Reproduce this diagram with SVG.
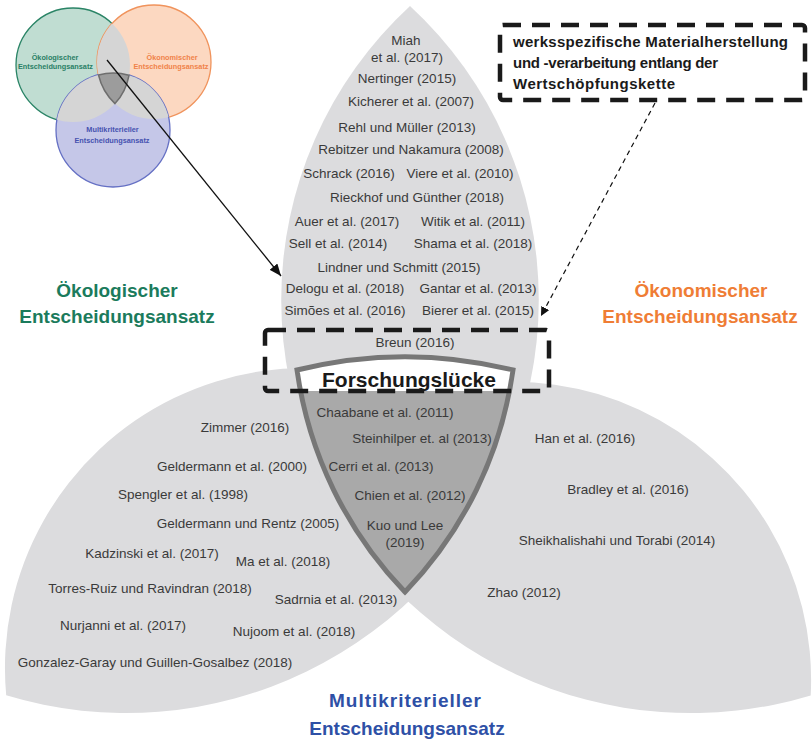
<svg xmlns="http://www.w3.org/2000/svg" width="812" height="742" viewBox="0 0 812 742">
<style>
  text { font-family: "Liberation Sans", Arial, sans-serif; }
  .r { font-size: 13.5px; fill: #3a3a3a; text-anchor: middle; }
  .big { font-size: 19px; font-weight: bold; text-anchor: middle; }
  .sm { font-size: 7.3px; font-weight: bold; text-anchor: middle; }
  .box { font-size: 15px; font-weight: bold; fill: #1a1a1a; }
  .petal { fill: #dcdcde; }
  .dash { fill: none; stroke: #1a1a1a; stroke-width: 4.5; stroke-dasharray: 18 11; }
</style>
<defs>
  <marker id="arrSolid" markerUnits="userSpaceOnUse" markerWidth="13" markerHeight="10" refX="12" refY="5" orient="auto">
    <path d="M0,0 L12,5 L0,10 Z" fill="#111"/>
  </marker>
  <marker id="arrDash" markerUnits="userSpaceOnUse" markerWidth="10" markerHeight="9" refX="9" refY="4.5" orient="auto">
    <path d="M0,0 L9,4.5 L0,9 Z" fill="#111"/>
  </marker>
  <clipPath id="cG"><circle cx="73" cy="65" r="57"/></clipPath>
  <clipPath id="cO"><circle cx="154" cy="62" r="57"/></clipPath>
  <clipPath id="cB"><circle cx="113" cy="130" r="57"/></clipPath>
  <clipPath id="band"><rect x="280" y="330" width="250" height="61"/></clipPath>
</defs>

<!-- inset Venn -->
<g id="inset">
  <circle cx="73" cy="65" r="57" fill="#c0ddd2" stroke="#2a8466" stroke-width="1.3"/>
  <circle cx="154" cy="62" r="57" fill="#fcd8c1" stroke="#f0935c" stroke-width="1.3"/>
  <circle cx="113" cy="130" r="57" fill="#c5c7e8" stroke="#6570c4" stroke-width="1.3"/>
  <circle cx="73" cy="65" r="57" fill="#d5d5d5" clip-path="url(#cO)"/>
  <circle cx="73" cy="65" r="57" fill="#d5d5d5" clip-path="url(#cB)"/>
  <circle cx="154" cy="62" r="57" fill="#d5d5d5" clip-path="url(#cB)"/>
  <path d="M98.5,75 A57,57 0 0 1 129,75.3 A57,57 0 0 1 115,103.6 A57,57 0 0 1 98.5,75 Z" fill="#9c9c9c" stroke="#6e6e6e" stroke-width="1.5"/>
  <text class="sm" x="55" y="59.5" fill="#2a7f66">Ökologischer</text>
  <text class="sm" x="55.5" y="69" fill="#2a7f66">Entscheidungsansatz</text>
  <text class="sm" x="172" y="59.5" fill="#f0834a">Ökonomischer</text>
  <text class="sm" x="171" y="69" fill="#f0834a">Entscheidungsansatz</text>
  <text class="sm" x="112.5" y="131.5" fill="#4552b0">Multikriterieller</text>
  <text class="sm" x="112" y="143" fill="#4552b0">Entscheidungsansatz</text>
</g>

<!-- petals -->
<g id="petals">
  <path id="petal-top" class="petal" d="M410,6 A400,400 0 0 0 410,594 A400,400 0 0 0 410,6 Z"/>
  <path id="petal-left" class="petal" d="M6.2,695.3 A300,300 0 0 1 511.4,450.3 A414,414 0 0 1 6.2,695.3 Z"/>
  <path id="petal-right" class="petal" d="M810.7,695.4 A298,298 0 0 0 310.1,461.6 A414,414 0 0 0 810.7,695.4 Z"/>
</g>

<!-- research gap (center) -->
<g id="center">
  <path d="M297,370 A450,450 0 0 1 513,370 A400,400 0 0 1 405,592 A400,400 0 0 1 297,370 Z" fill="#a9a9a9"/>
  <path d="M297,370 A450,450 0 0 1 513,370 A400,400 0 0 1 405,592 A400,400 0 0 1 297,370 Z" fill="#ffffff" clip-path="url(#band)"/>
  <path d="M297,370 A450,450 0 0 1 513,370 A400,400 0 0 1 405,592 A400,400 0 0 1 297,370 Z" fill="none" stroke="#777777" stroke-width="5"/>
  <text x="409" y="386.5" font-size="21" font-weight="bold" fill="#1a1a1a" text-anchor="middle">Forschungslücke</text>
  <text class="r" x="385" y="417">Chaabane et al. (2011)</text>
  <text class="r" x="422" y="443">Steinhilper et. al (2013)</text>
  <text class="r" x="381" y="471">Cerri et al. (2013)</text>
  <text class="r" x="410" y="500">Chien et al. (2012)</text>
  <text class="r" x="405" y="530">Kuo und Lee</text>
  <text class="r" x="405" y="547">(2019)</text>
</g>

<!-- top petal references -->
<g id="refs-top">
  <text class="r" x="406" y="45">Miah</text>
  <text class="r" x="407" y="62">et al. (2017)</text>
  <text class="r" x="407" y="83">Nertinger (2015)</text>
  <text class="r" x="411" y="106">Kicherer et al. (2007)</text>
  <text class="r" x="407" y="132">Rehl und Müller (2013)</text>
  <text class="r" x="411" y="154">Rebitzer und Nakamura (2008)</text>
  <text class="r" x="349" y="178">Schrack (2016)</text>
  <text class="r" x="460" y="178">Viere et al. (2010)</text>
  <text class="r" x="417" y="202">Rieckhof und Günther (2018)</text>
  <text class="r" x="347" y="226">Auer et al. (2017)</text>
  <text class="r" x="473" y="226">Witik et al. (2011)</text>
  <text class="r" x="338" y="248">Sell et al. (2014)</text>
  <text class="r" x="473" y="248">Shama et al. (2018)</text>
  <text class="r" x="399" y="272">Lindner und Schmitt (2015)</text>
  <text class="r" x="345" y="293">Delogu et al. (2018)</text>
  <text class="r" x="478" y="293">Gantar et al. (2013)</text>
  <text class="r" x="345" y="315">Simões et al. (2016)</text>
  <text class="r" x="478" y="315">Bierer et al. (2015)</text>
  <text class="r" x="415" y="347">Breun (2016)</text>
</g>

<!-- left petal references -->
<g id="refs-left">
  <text class="r" x="245" y="431.5">Zimmer (2016)</text>
  <text class="r" x="232" y="471">Geldermann et al. (2000)</text>
  <text class="r" x="183" y="498.5">Spengler et al. (1998)</text>
  <text class="r" x="248" y="528">Geldermann und Rentz (2005)</text>
  <text class="r" x="152" y="557.5">Kadzinski et al. (2017)</text>
  <text class="r" x="283" y="566">Ma et al. (2018)</text>
  <text class="r" x="150" y="593">Torres-Ruiz und Ravindran (2018)</text>
  <text class="r" x="336" y="603.5">Sadrnia et al. (2013)</text>
  <text class="r" x="123" y="629.5">Nurjanni et al. (2017)</text>
  <text class="r" x="294" y="635.5">Nujoom et al. (2018)</text>
  <text class="r" x="155" y="667">Gonzalez-Garay und Guillen-Gosalbez (2018)</text>
</g>

<!-- right petal references -->
<g id="refs-right">
  <text class="r" x="585" y="443">Han et al. (2016)</text>
  <text class="r" x="628" y="494">Bradley et al. (2016)</text>
  <text class="r" x="617" y="545">Sheikhalishahi und Torabi (2014)</text>
  <text class="r" x="524" y="597">Zhao (2012)</text>
</g>

<!-- approach labels -->
<g id="label-oeko">
  <text class="big" x="117" y="297" fill="#1b7b5c">Ökologischer</text>
  <text class="big" x="117" y="323" fill="#1b7b5c">Entscheidungsansatz</text>
</g>
<g id="label-oekon">
  <text class="big" x="701" y="297" fill="#ef7d35">Ökonomischer</text>
  <text class="big" x="700" y="323" fill="#ef7d35">Entscheidungsansatz</text>
</g>
<g id="label-multi">
  <text class="big" x="405" y="707" fill="#2e50a6" textLength="152" lengthAdjust="spacing">Multikriterieller</text>
  <text class="big" x="407" y="735" fill="#2e50a6">Entscheidungsansatz</text>
</g>

<!-- dashed boxes -->
<g id="box-breun">
  <rect class="dash" x="265" y="330" width="284" height="61" rx="3"/>
</g>
<g id="box-werk">
  <rect class="dash" x="500" y="25" width="305" height="75" rx="3"/>
  <text class="box" x="513" y="47" textLength="275" lengthAdjust="spacing">werksspezifische Materialherstellung</text>
  <text class="box" x="513" y="68" textLength="205" lengthAdjust="spacing">und -verarbeitung entlang der</text>
  <text class="box" x="513" y="89" textLength="162" lengthAdjust="spacing">Wertschöpfungskette</text>
</g>

<!-- connectors -->
<g id="connectors">
  <line x1="107" y1="60" x2="281" y2="276" stroke="#111" stroke-width="1.3" marker-end="url(#arrSolid)"/>
  <line x1="655" y1="103" x2="541" y2="316" stroke="#111" stroke-width="1.2" stroke-dasharray="5 4" marker-end="url(#arrDash)"/>
</g>
</svg>
